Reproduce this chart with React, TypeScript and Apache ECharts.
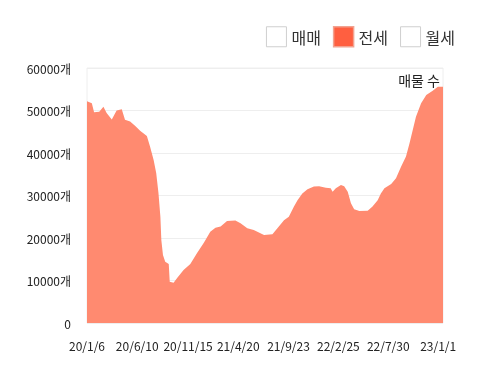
import React, { useEffect, useRef } from "react";
import * as echarts from "echarts";

const START = "2020-01-06";
const LEGEND_NAMES = ["매매", "전세", "월세"];
const TICK_LABELS = ["20/1/6", "20/6/10", "20/11/15", "21/4/20", "21/9/23", "22/2/25", "22/7/30", "23/1/1"];
const Y_TICKS = [0, 10000, 20000, 30000, 40000, 50000, 60000];

// day offsets from START and 전세 listing counts
const DAYS = [
  0, 15, 22, 38, 51, 61, 77, 92, 108, 118, 134, 150, 165, 186, 196, 207, 215, 222, 228, 231,
  236, 243, 254, 257, 269, 280, 300, 321, 342, 363, 383, 399, 415, 435, 461, 477, 498, 518,
  550, 576, 596, 612, 627, 643, 654, 669, 685, 705, 721, 742, 757, 763, 773, 789, 799, 810,
  820, 830, 846, 872, 887, 903, 913, 924, 945, 960, 976, 991, 1002, 1012, 1022, 1038, 1054,
  1074, 1090, 1106,
];
const JEONSE = [
  52200, 51700, 49600, 49700, 50900, 49400, 47900, 50000, 50300, 47800, 47400, 46350, 45250,
  44000, 41500, 38350, 35300, 30600, 25000, 19500, 16000, 14400, 13900, 9700, 9500, 10600,
  12500, 13900, 16500, 18900, 21500, 22400, 22700, 24000, 24100, 23500, 22300, 21900, 20700,
  20900, 22700, 24200, 25000, 27400, 28900, 30500, 31450, 32100, 32200, 31850, 31700, 30900,
  31700, 32500, 32200, 30900, 28200, 26750, 26350, 26430, 27400, 28900, 30500, 31700, 32700,
  34050, 36800, 39150, 42300, 45400, 48550, 51700, 53650, 54650, 55600, 55600,
];

const DAY_MS = 86400000;
const startMs = Date.UTC(2020, 0, 6);
function labelToOffset(lbl: string): number {
  const [y, m, d] = lbl.split("/").map(Number);
  return Math.round((Date.UTC(2000 + y, m - 1, d) - startMs) / DAY_MS);
}
function offsetToLabel(off: number): string {
  const dt = new Date(startMs + off * DAY_MS);
  return `${dt.getUTCFullYear() % 100}/${dt.getUTCMonth() + 1}/${dt.getUTCDate()}`;
}

export default function App() {
  const ref = useRef<HTMLDivElement>(null);
  useEffect(() => {
    if (!ref.current) return;
    const chart = echarts.init(ref.current, undefined, { renderer: "svg" });
    const font = "'Noto Sans CJK KR', 'Noto Sans', sans-serif";
    const tickOffsets = TICK_LABELS.map(labelToOffset);
    chart.setOption({
      animation: false,
      textStyle: { fontFamily: font },
      legend: {
        top: 21,
        right: 40,
        itemWidth: 20,
        itemHeight: 20,
        itemGap: 12,
        icon: "rect",
        textStyle: { fontSize: 16, color: "#333", fontFamily: font },
        data: [
          { name: LEGEND_NAMES[0], itemStyle: { color: "#fff", borderColor: "#cfcfcf", borderWidth: 1 } },
          { name: LEGEND_NAMES[1], itemStyle: { color: "#ff5f40", borderColor: "#f2a290", borderWidth: 1.5 } },
          { name: LEGEND_NAMES[2], itemStyle: { color: "#fff", borderColor: "#cfcfcf", borderWidth: 1 } },
        ],
      },
      grid: {
        left: 87,
        right: 57,
        top: 68,
        bottom: 58,
        show: true,
        borderColor: "#eeeeee",
        borderWidth: 1,
      },
      xAxis: {
        type: "value",
        min: 0,
        max: DAYS[DAYS.length - 1],
        axisLine: { show: false },
        axisTick: { show: false },
        splitLine: { show: false },
        axisLabel: {
          customValues: tickOffsets,
          formatter: (v: number) => offsetToLabel(v),
          fontSize: 12,
          color: "#222",
          margin: 16,
          fontFamily: font,
          showMinLabel: true,
          showMaxLabel: true,
          hideOverlap: false,
        },
      },
      yAxis: {
        type: "value",
        min: 0,
        max: 60000,
        interval: 10000,
        axisLine: { show: false },
        axisTick: { show: false },
        splitLine: { lineStyle: { color: "#eeeeee" } },
        axisLabel: {
          formatter: (v: number) => (v === 0 ? "0" : `${v}개`),
          fontSize: 12,
          color: "#222",
          margin: 16,
          fontFamily: font,
        },
      },
      graphic: [
        {
          type: "text",
          right: 60,
          top: 73,
          style: { text: "매물 수", fontSize: 14, fill: "#222", fontFamily: font },
        },
      ],
      series: [
        { name: LEGEND_NAMES[0], type: "line", data: [], showSymbol: false },
        {
          name: LEGEND_NAMES[1],
          type: "line",
          data: DAYS.map((d, i) => [d, JEONSE[i]]),
          showSymbol: false,
          lineStyle: { width: 0, color: "#ff8a70" },
          itemStyle: { color: "#ff5f40" },
          areaStyle: { color: "#ff8a70", opacity: 1 },
        },
        { name: LEGEND_NAMES[2], type: "line", data: [], showSymbol: false },
      ],
    });
    return () => chart.dispose();
  }, []);
  return <div ref={ref} style={{ position: "fixed", left: 0, top: 0, width: 500, height: 381 }} />;
}
